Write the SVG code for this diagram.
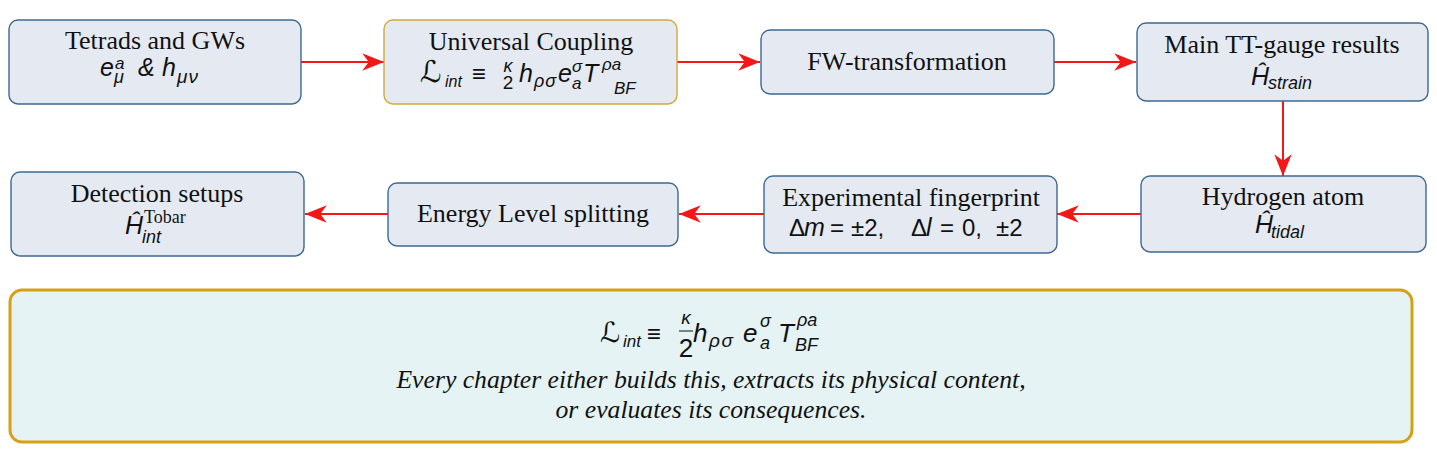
<svg xmlns="http://www.w3.org/2000/svg" width="1437" height="454" viewBox="0 0 1437 454">
<style>
.box{fill:#e5eaf2;stroke:#3d6891;stroke-width:1.4}
.gold{fill:#e5eaf2;stroke:#d2a93c;stroke-width:1.4}
.big{fill:#e5f3f4;stroke:#d4a21a;stroke-width:3}
.t{font-family:"Liberation Serif","DejaVu Serif",serif;font-size:26px;fill:#111;text-anchor:middle}
.ti{font-family:"Liberation Serif","DejaVu Serif",serif;font-size:25.7px;font-style:italic;fill:#111;text-anchor:middle}
.m{font-family:"Liberation Sans","DejaVu Sans",sans-serif;font-style:italic;font-size:25px;fill:#111}
.s{font-family:"Liberation Sans","DejaVu Sans",sans-serif;font-style:italic;font-size:18px;fill:#111}
.u{font-family:"Liberation Sans","DejaVu Sans",sans-serif;font-size:24px;fill:#111}
.L{font-family:"DejaVu Sans",sans-serif;font-size:30px;fill:#111}
.c{stroke:#f21818;stroke-width:2;fill:none}
</style>
<defs>
<marker id="ah" markerUnits="userSpaceOnUse" markerWidth="24" markerHeight="20" viewBox="-21 -9 22 18" refX="0" refY="0" orient="auto">
<path d="M0,0 L-20,-8 L-14,0 L-20,8 Z" fill="#f21818"/>
</marker>
</defs>

<g id="connectors">
<line class="c" x1="301" y1="62" x2="384" y2="62" marker-end="url(#ah)"/>
<line class="c" x1="677" y1="62" x2="760" y2="62" marker-end="url(#ah)"/>
<line class="c" x1="1054" y1="62" x2="1136" y2="62" marker-end="url(#ah)"/>
<line class="c" x1="1283" y1="101" x2="1283" y2="176" marker-end="url(#ah)"/>
<line class="c" x1="1141" y1="214" x2="1057" y2="214" marker-end="url(#ah)"/>
<line class="c" x1="764" y1="214" x2="679" y2="214" marker-end="url(#ah)"/>
<line class="c" x1="388" y1="214" x2="305" y2="214" marker-end="url(#ah)"/>
</g>

<g id="n1">
<rect class="box" x="9" y="20" width="292" height="84" rx="9"/>
<text class="t" x="155" y="49">Tetrads and GWs</text>
<text class="m" x="100" y="76">e<tspan x="115" y="69" style="font-size:17px">a</tspan><tspan x="114" y="83" style="font-size:18px">μ</tspan></text>
<text class="m" x="138" y="76">&amp;</text>
<text class="m" x="162" y="76">h<tspan x="177" y="83" style="font-size:19px;letter-spacing:1px">μν</tspan></text>
</g>

<g id="n2">
<rect class="gold" x="384" y="20" width="293" height="84" rx="9"/>
<text class="t" x="531" y="50">Universal Coupling</text>
<text class="L" x="420" y="82">ℒ</text>
<text class="s" x="445" y="87" style="font-size:16px">int</text>
<text class="u" x="472" y="82">≡</text>
<text class="s" x="508" y="72" style="text-anchor:middle">κ<tspan x="508" y="89" style="font-style:normal;font-size:19px">2</tspan></text>
<text class="m" x="519" y="82">h</text>
<text class="s" x="534" y="87" style="letter-spacing:1px">ρσ</text>
<text class="m" x="558" y="82">e<tspan x="572" y="72" style="font-size:17px">σ</tspan><tspan x="572" y="89" style="font-size:17px">a</tspan></text>
<text class="m" x="583" y="82">T<tspan x="602" y="70" style="font-size:17px">ρa</tspan><tspan x="614" y="94" style="font-size:17px">BF</tspan></text>
</g>

<g id="n3">
<rect class="box" x="761" y="30" width="293" height="64" rx="9"/>
<text class="t" x="907" y="70">FW-transformation</text>
</g>

<g id="n4">
<rect class="box" x="1137" y="23" width="291" height="78" rx="9"/>
<text class="t" x="1282" y="53">Main TT-gauge results</text>
<text class="m" x="1251" y="85">Ĥ<tspan x="1268" y="89" style="font-size:18px">strain</tspan></text>
</g>

<g id="n5">
<rect class="box" x="1141" y="176" width="285" height="76" rx="9"/>
<text class="t" x="1283" y="205">Hydrogen atom</text>
<text class="m" x="1255" y="233">Ĥ<tspan x="1271" y="238" style="font-size:18px">tidal</tspan></text>
</g>

<g id="n6">
<rect class="box" x="764" y="176" width="293" height="77" rx="9"/>
<text class="t" x="911" y="206">Experimental fingerprint</text>
<text class="u" x="789" y="236">Δ<tspan x="804" font-style="italic" font-size="25">m</tspan><tspan x="830">=</tspan><tspan x="851">±2,</tspan><tspan x="911">Δ</tspan><tspan x="926" font-style="italic" font-size="25">l</tspan><tspan x="940">=</tspan><tspan x="962">0,</tspan><tspan x="996">±2</tspan></text>
</g>

<g id="n7">
<rect class="box" x="388" y="183" width="290" height="63" rx="9"/>
<text class="t" x="533" y="222">Energy Level splitting</text>
</g>

<g id="n8">
<rect class="box" x="11" y="172" width="293" height="84" rx="9"/>
<text class="t" x="157" y="202">Detection setups</text>
<text class="m" x="125" y="234">Ĥ<tspan x="144" y="223" style="font-family:'Liberation Serif',serif;font-style:normal;font-size:18px">Tobar</tspan><tspan x="142" y="243" style="font-size:18px">int</tspan></text>
</g>

<g id="summary">
<rect class="big" x="10" y="290" width="1402" height="152" rx="12"/>
<text class="L" x="600" y="342" style="font-size:28px">ℒ</text>
<text class="s" x="623" y="347" style="font-size:17px">int</text>
<text class="u" x="647" y="342">≡</text>
<text class="s" x="686" y="324" style="text-anchor:middle;font-size:19px">κ</text>
<line x1="679" y1="331" x2="693" y2="331" stroke="#111" stroke-width="1"/>
<text class="u" x="686" y="357" style="text-anchor:middle;font-size:26px">2</text>
<text class="m" x="693" y="342" style="font-size:26px">h</text>
<text class="s" x="709" y="347" style="font-size:19px;letter-spacing:1.5px">ρσ</text>
<text class="m" x="743" y="342" style="font-size:26px">e<tspan x="760" y="327" style="font-size:18px">σ</tspan><tspan x="760" y="349" style="font-size:18px">a</tspan></text>
<text class="m" x="778" y="342" style="font-size:26px">T<tspan x="797" y="326" style="font-size:18px">ρa</tspan><tspan x="795" y="351" style="font-size:18px">BF</tspan></text>
<text class="ti" x="711" y="388">Every chapter either builds this, extracts its physical content,</text>
<text class="ti" x="711" y="418">or evaluates its consequences.</text>
</g>
</svg>
